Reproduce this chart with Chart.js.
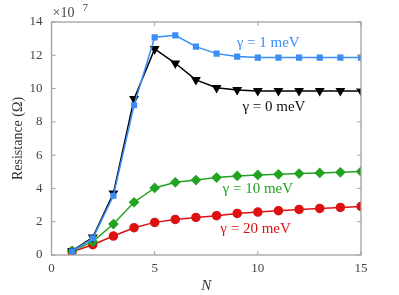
<!DOCTYPE html>
<html><head><meta charset="utf-8">
<script src="https://cdn.jsdelivr.net/npm/chart.js@4"></script>
<style>html,body{margin:0;padding:0;background:#fff}#wrap{width:399px;height:295px}</style>
</head><body><div id="wrap"><canvas id="c" width="399" height="295"></canvas></div>
<script>
const N = [1,2,3,4,5,6,7,8,9,10,11,12,13,14,15];
const gamma1 = [0.22,1.0,3.56,9.0,13.08,13.2,12.52,12.1,11.92,11.86,11.86,11.86,11.86,11.86,11.86];
const gamma0 = [0.25,1.06,3.7,9.38,12.38,11.52,10.52,10.05,9.92,9.86,9.86,9.86,9.86,9.86,9.86];
const gamma10 = [0.25,0.8,1.86,3.17,4.03,4.37,4.5,4.65,4.75,4.81,4.85,4.89,4.93,4.97,5.01];
const gamma20 = [0.2,0.62,1.14,1.64,1.96,2.14,2.26,2.36,2.5,2.58,2.66,2.74,2.8,2.86,2.92];
const xTicks = [0,5,10,15];
const yTicks = [0,2,4,6,8,10,12,14];
const labels = [
  {text:'\u03b3 = 1 meV', x:10.5, y:12.74, color:'#3a8ef5'},
  {text:'\u03b3 = 0 meV', x:10.78, y:8.9, color:'#111111'},
  {text:'\u03b3 = 10 meV', x:10.0, y:3.97, color:'#22a322'},
  {text:'\u03b3 = 20 meV', x:9.89, y:1.56, color:'#dd1111'}
];
const serif = "'Liberation Serif', 'DejaVu Serif', serif";
function pts(arr){return N.map((n,i)=>({x:n,y:arr[i]}));}

const framePlugin = {
  id:'frame',
  afterDraw(chart){
    const {ctx, chartArea:a, scales:{x,y}} = chart;
    ctx.save();
    ctx.strokeStyle = '#a0a0a0';
    ctx.lineWidth = 1.3;
    ctx.strokeRect(a.left, a.top, a.right-a.left, a.bottom-a.top);
    ctx.lineWidth = 1;
    const tl = 4;
    xTicks.forEach(v=>{const p=x.getPixelForValue(v);
      ctx.beginPath();ctx.moveTo(p,a.bottom);ctx.lineTo(p,a.bottom-tl);ctx.moveTo(p,a.top);ctx.lineTo(p,a.top+tl);ctx.stroke();});
    yTicks.forEach(v=>{const p=y.getPixelForValue(v);
      ctx.beginPath();ctx.moveTo(a.left,p);ctx.lineTo(a.left+tl,p);ctx.moveTo(a.right,p);ctx.lineTo(a.right-tl,p);ctx.stroke();});
    ctx.fillStyle = '#444';
    ctx.font = '14px ' + serif;
    ctx.textBaseline = 'alphabetic';
    ctx.textAlign = 'left';
    ctx.fillText('\u00d710', a.left+1, a.top-5);
    ctx.font = '11px ' + serif;
    ctx.fillText('7', a.left+31, a.top-11);
    ctx.font = '15px ' + serif;
    ctx.textAlign = 'center';
    ctx.textBaseline = 'middle';
    labels.forEach(l=>{ctx.fillStyle=l.color;ctx.fillText(l.text, x.getPixelForValue(l.x), y.getPixelForValue(l.y));});
    ctx.restore();
  }
};

new Chart(document.getElementById('c'), {
  type:'line',
  data:{datasets:[
    {label:'g1', data:pts(gamma1), borderColor:'#3a8ef5', backgroundColor:'#3a8ef5', pointStyle:'rect', pointRadius:3.3, borderWidth:1.5},
    {label:'g0', data:pts(gamma0), borderColor:'#000', backgroundColor:'#000', pointStyle:'triangle', rotation:180, pointRadius:4.2, borderWidth:1.5},
    {label:'g10', data:pts(gamma10), borderColor:'#22a322', backgroundColor:'#22a322', pointStyle:'rectRot', pointRadius:4.3, borderWidth:1.5},
    {label:'g20', data:pts(gamma20), borderColor:'#dd1111', backgroundColor:'#dd1111', pointStyle:'circle', pointRadius:4, borderWidth:1.5}
  ]},
  options:{
    responsive:false, animation:false,
    layout:{padding:{left:0, right:38, top:22, bottom:0}},
    plugins:{legend:{display:false}, tooltip:{enabled:false}},
    elements:{line:{tension:0}, point:{borderWidth:0}},
    scales:{
      x:{type:'linear', min:0, max:15, grid:{display:false, drawTicks:false}, border:{display:false},
        afterBuildTicks(s){s.ticks = xTicks.map(v=>({value:v}));},
        ticks:{font:{family:serif,size:13}, color:'#444', padding:6, maxRotation:0},
        title:{display:true, text:'N', font:{family:serif,size:15,style:'italic'}, color:'#333', padding:{top:0,bottom:0}},
        afterFit(s){s.height = 40;}},
      y:{type:'linear', min:0, max:14, grid:{display:false, drawTicks:false}, border:{display:false},
        afterBuildTicks(s){s.ticks = yTicks.map(v=>({value:v}));},
        ticks:{font:{family:serif,size:13}, color:'#444', padding:9},
        title:{display:true, text:'Resistance (\u03a9)', font:{family:serif,size:14}, color:'#333', padding:{top:10,bottom:0}},
        afterFit(s){s.width = 51.5;}}
    }
  },
  plugins:[framePlugin]
});
</script></body></html>
